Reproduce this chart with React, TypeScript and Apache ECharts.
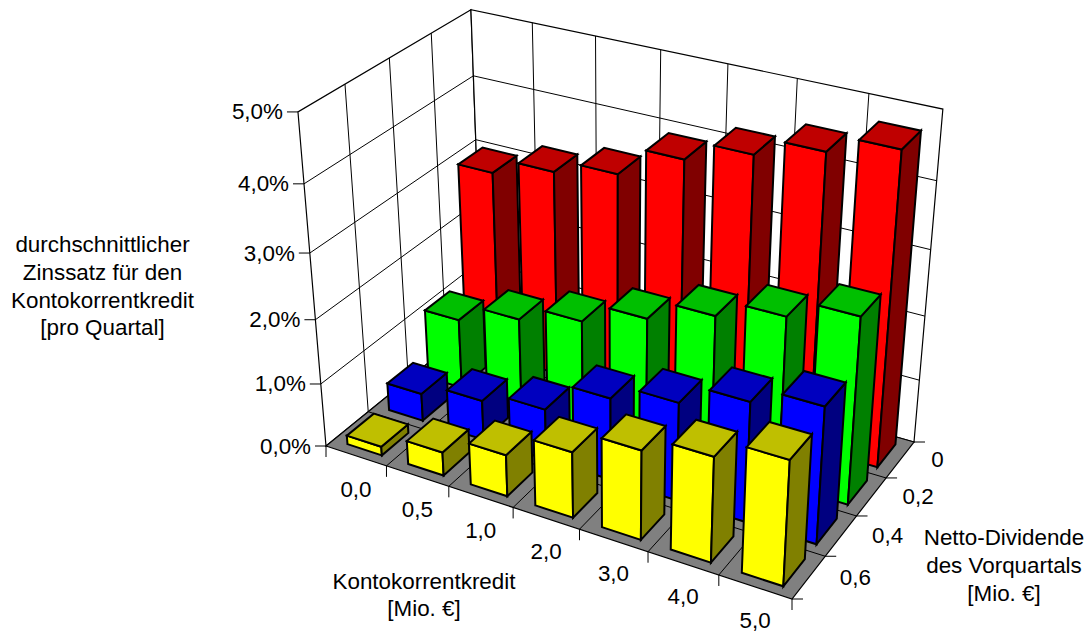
import React, { useEffect, useRef } from "react";
import * as echarts from "echarts";

// Chart data: interest rate by credit volume and dividend row
const creditLabels = ["0,0", "0,5", "1,0", "2,0", "3,0", "4,0", "5,0"];
const dividendLabels = ["0,6", "0,4", "0,2", "0"];
const rateLabels = ["0,0%", "1,0%", "2,0%", "3,0%", "4,0%", "5,0%"];
const rate06 = [0.14, 0.37, 0.65, 1.02, 1.37, 1.6, 1.88];
const rate04 = [0.44, 0.63, 0.8, 1.28, 1.52, 1.84, 2.08];
const rate02 = [1.12, 1.41, 1.66, 1.98, 2.3, 2.57, 2.85];
const rate00 = [3.0, 3.25, 3.45, 3.9, 4.2, 4.47, 4.73];
const leftTitle = ["durchschnittlicher", "Zinssatz für den", "Kontokorrentkredit", "[pro Quartal]"];
const bottomTitle = ["Kontokorrentkredit", "[Mio. €]"];
const rightTitle = ["Netto-Dividende", "des Vorquartals", "[Mio. €]"];

const RATE_MAX = 5;
const FONT = '22.4px "Liberation Sans", Arial, sans-serif';

// Box corners on the canvas, used to build the perspective projection
const L = [326, 446];
const F = [792, 599];
const R = [914, 442];
const B = [482.4, 319];
const VANISH = [615, 3891];
const VANISH_K = -0.0884;

// Unit square to floor quad (Heckbert)
function floorMatrix() {
  const [x0, y0] = L, [x1, y1] = F, [x2, y2] = R, [x3, y3] = B;
  const dx1 = x1 - x2, dx2 = x3 - x2, sx = x0 - x1 + x2 - x3;
  const dy1 = y1 - y2, dy2 = y3 - y2, sy = y0 - y1 + y2 - y3;
  const det = dx1 * dy2 - dx2 * dy1;
  const g = (sx * dy2 - dx2 * sy) / det;
  const h = (dx1 * sy - sx * dy1) / det;
  return {
    a: [x1 - x0 + g * x1, y1 - y0 + g * y1, g],
    b: [x3 - x0 + h * x3, y3 - y0 + h * y3, h],
    d: [x0, y0, 1],
  };
}
const M = floorMatrix();
const C = [VANISH_K * VANISH[0], VANISH_K * VANISH[1], VANISH_K];

// u: credit cell position, v: dividend cell position (0 is the front), rate in percent
function project(u: number, v: number, rate: number): number[] {
  const x = u / creditLabels.length, y = v / dividendLabels.length, z = rate / RATE_MAX;
  const X = M.a[0] * x + M.b[0] * y + C[0] * z + M.d[0];
  const Y = M.a[1] * x + M.b[1] * y + C[1] * z + M.d[1];
  const W = M.a[2] * x + M.b[2] * y + C[2] * z + M.d[2];
  return [X / W, Y / W];
}

const MARGIN_U0 = 0.23;
const MARGIN_U1 = 0.2;
const MARGIN_V = 0.18;

function barRenderer(row: number, front: string, top: string, side: string) {
  return (_params: any, api: any) => {
    const i = api.value(0), rate = api.value(1);
    const u0 = i + MARGIN_U0, u1 = i + 1 - MARGIN_U1, v0 = row + MARGIN_V, v1 = row + 1 - MARGIN_V;
    const face = (pts: number[][], fill: string) => ({
      type: "polygon",
      shape: { points: pts.map((p) => project(p[0], p[1], p[2])) },
      style: { fill, stroke: "#000", lineWidth: 2, lineJoin: "miter" },
    });
    return {
      type: "group",
      children: [
        face([[u0, v0, 0], [u1, v0, 0], [u1, v0, rate], [u0, v0, rate]], front),
        face([[u1, v0, 0], [u1, v1, 0], [u1, v1, rate], [u1, v0, rate]], side),
        face([[u0, v0, rate], [u1, v0, rate], [u1, v1, rate], [u0, v1, rate]], top),
      ],
    };
  };
}

function barSeries(values: number[], row: number, front: string, top: string, side: string) {
  return {
    type: "custom",
    coordinateSystem: "none",
    silent: true,
    data: values.map((v, i) => [i, v]),
    renderItem: barRenderer(row, front, top, side),
  };
}

function frameRenderer() {
  const nu = creditLabels.length, nv = dividendLabels.length;
  const children: any[] = [];
  const poly = (pts: number[][], fill: string) =>
    children.push({
      type: "polygon",
      shape: { points: pts.map((p) => project(p[0], p[1], p[2])) },
      style: { fill, stroke: "#000", lineWidth: 1.2 },
    });
  const seg = (a: number[], b: number[], dx = 0, dy = 0, w = 1) => {
    const p = project(a[0], a[1], a[2]);
    const q = b.length ? project(b[0], b[1], b[2]) : [p[0] + dx, p[1] + dy];
    children.push({
      type: "line",
      shape: { x1: p[0], y1: p[1], x2: q[0], y2: q[1] },
      style: { stroke: "#000", lineWidth: w },
    });
  };
  poly([[0, 0, 0], [0, nv, 0], [0, nv, RATE_MAX], [0, 0, RATE_MAX]], "#fff");
  poly([[0, nv, 0], [nu, nv, 0], [nu, nv, RATE_MAX], [0, nv, RATE_MAX]], "#fff");
  poly([[0, 0, 0], [nu, 0, 0], [nu, nv, 0], [0, nv, 0]], "#808080");
  for (let r = 1; r < RATE_MAX; r++) {
    seg([0, 0, r], [0, nv, r]);
    seg([0, nv, r], [nu, nv, r]);
  }
  for (let u = 1; u < nu; u++) {
    seg([u, nv, 0], [u, nv, RATE_MAX]);
    seg([u, 0, 0], [u, nv, 0]);
  }
  for (let v = 1; v < nv; v++) {
    seg([0, v, 0], [0, v, RATE_MAX]);
    seg([0, v, 0], [nu, v, 0]);
  }
  // Tick marks on all three axes
  for (let r = 0; r <= RATE_MAX; r++) seg([0, 0, r], [], -11, 0);
  for (let u = 0; u <= nu; u++) seg([u, 0, 0], [], 0, 11);
  for (let v = 0; v <= nv; v++) seg([nu, v, 0], [], 11, 0);
  return { type: "group", children };
}

function textItem(text: string, x: number, y: number, align: string) {
  return {
    type: "text",
    silent: true,
    style: { text, x, y, font: FONT, fill: "#000", align, verticalAlign: "middle" },
  };
}

function buildLabels() {
  const items: any[] = [];
  rateLabels.forEach((t, r) => {
    const p = project(0, 0, r);
    items.push(textItem(t, p[0] - 15, p[1], "right"));
  });
  creditLabels.forEach((t, i) => {
    const p = project(i + 0.5, 0, 0);
    items.push(textItem(t, p[0], p[1] + 33.5, "center"));
  });
  dividendLabels.forEach((t, j) => {
    const p = project(creditLabels.length, j + 0.5, 0);
    items.push(textItem(t, p[0] + 31, p[1], "left"));
  });
  leftTitle.forEach((t, k) => items.push(textItem(t, 102.5, 244.5 + k * 27.8, "center")));
  bottomTitle.forEach((t, k) => items.push(textItem(t, 424, 581 + k * 27, "center")));
  rightTitle.forEach((t, k) => items.push(textItem(t, 1004, 537 + k * 28, "center")));
  return items;
}

export default function App() {
  const ref = useRef<HTMLDivElement>(null);
  useEffect(() => {
    document.body.style.margin = "0";
    const chart = echarts.init(ref.current!, undefined, { renderer: "svg" });
    chart.setOption({
      animation: false,
      backgroundColor: "#fff",
      graphic: { elements: buildLabels() },
      series: [
        {
          type: "custom",
          coordinateSystem: "none",
          silent: true,
          data: [[0]],
          renderItem: frameRenderer,
        },
        barSeries(rate00, 3, "#ff0000", "#bf0000", "#800000"),
        barSeries(rate02, 2, "#00ff00", "#00bf00", "#008000"),
        barSeries(rate04, 1, "#0000ff", "#0000bf", "#000080"),
        barSeries(rate06, 0, "#ffff00", "#bfbf00", "#808000"),
      ],
    });
    return () => chart.dispose();
  }, []);
  return <div ref={ref} style={{ width: 1085, height: 632 }} />;
}
